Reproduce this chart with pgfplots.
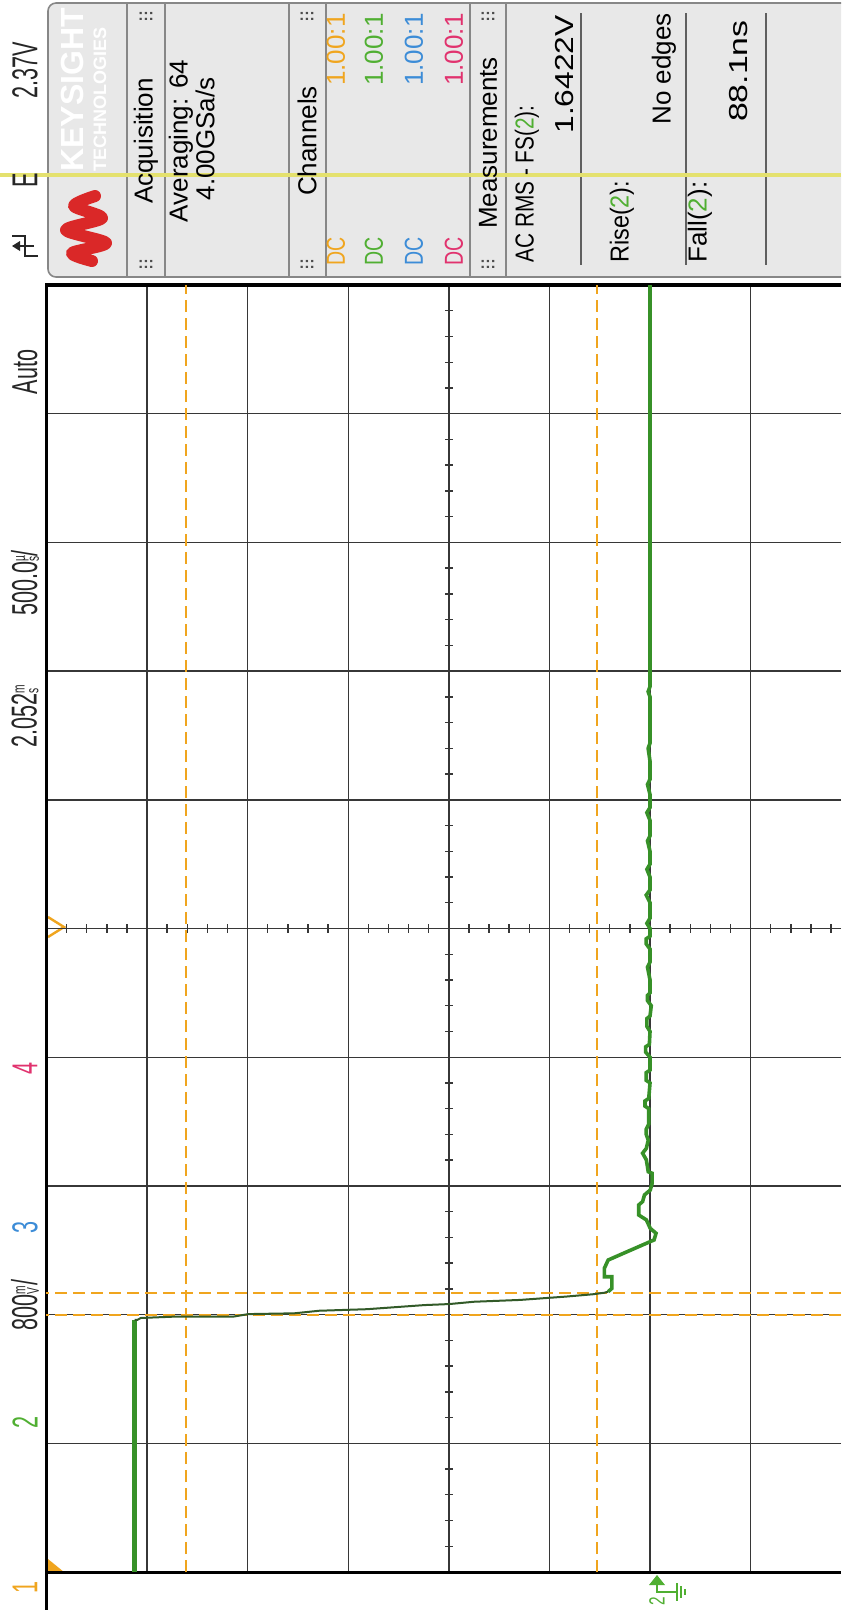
\documentclass[border=0pt]{standalone}
\usepackage{fontspec}
\setmainfont{Liberation Sans}
\usepackage{graphicx}
\usepackage{pgfplots}
\pgfplotsset{compat=1.18}
\definecolor{chone}{RGB}{240,165,30}
\definecolor{chtwo}{RGB}{80,175,50}
\definecolor{chthree}{RGB}{60,140,215}
\definecolor{chfour}{RGB}{225,50,110}
\definecolor{trace}{RGB}{55,145,40}
\definecolor{edgec}{RGB}{50,90,40}
\definecolor{panelbg}{RGB}{232,232,232}
\definecolor{panelln}{RGB}{135,135,135}
\definecolor{trig}{RGB}{228,225,110}
\definecolor{logored}{RGB}{218,40,40}
\definecolor{gridc}{RGB}{55,55,55}
\newcommand{\lstrip}{\fontsize{18}{20}\selectfont}
\newcommand{\pfont}{\fontsize{13}{15}\selectfont}
\newcommand{\stk}[2]{\ooalign{\raisebox{0.62ex}{\fontsize{8.5}{8}\selectfont #1}\cr\raisebox{-0.1ex}{\fontsize{8.5}{8}\selectfont #2}\cr}}
\begin{document}
\begin{tikzpicture}
% ---------- outer frame: pixel coordinates of the screenshot ----------
\begin{axis}[at={(0pt,0pt)}, anchor=north west, scale only axis,
  width=420.5pt, height=805pt, xmin=0, xmax=841, ymin=0, ymax=1610,
  y dir=reverse, hide axis, clip=false]
\fill[white] (0,0) rectangle (841,1610);
% panel
\fill[panelbg] (841,3) [rounded corners=4pt] -- (48,3) -- (48,277) [sharp corners] -- (841,277) -- cycle;
\draw[panelln, line width=0.8pt] (841,3) [rounded corners=4pt] -- (48,3) -- (48,277) [sharp corners] -- (841,277);
\pgfplotsinvokeforeach{127,165,289,326,470,506}{\draw[panelln, line width=0.8pt] (#1,3) -- (#1,277);}
\pgfplotsinvokeforeach{581,686,766}{\draw[gridc!80, line width=0.8pt] (#1,13) -- (#1,265);}
% trigger level line
\draw[trig, line width=2pt] (0,175) -- (841,175);
% logo
\draw[logored, line width=6pt, line cap=round, line join=round] plot[smooth] coordinates {(95,196) (74,206) (102,218) (66,230) (106,243) (72,253) (92,261)};
\node[rotate=90, anchor=west, inner sep=0, text=white, font=\fontsize{16}{18}\selectfont\bfseries] at (72,172) {KEYSIGHT};
\node[rotate=90, anchor=west, inner sep=0, text=white, font=\fontsize{9}{10}\selectfont\bfseries] at (100,172) {TECHNOLOGIES};
% panel headers
\node[rotate=90, inner sep=0, font=\pfont] at (146,141) {Acquisition};
\node[rotate=90, inner sep=0, font=\pfont] at (181,141) {Averaging: 64};
\node[rotate=90, inner sep=0, font=\pfont] at (205,139) {4.00GSa/s};
\node[rotate=90, inner sep=0, font=\pfont] at (307,141) {Channels};
\node[rotate=90, inner sep=0, font=\pfont] at (488,143) {Measurements};
\pgfplotsinvokeforeach{146,307,488}{
  \node[inner sep=0, font=\fontsize{8}{8}\selectfont\bfseries, text=black!70] at (#1,16) {:::};
  \node[inner sep=0, font=\fontsize{8}{8}\selectfont\bfseries, text=black!70] at (#1,264) {:::};}
% channels
\node[rotate=90, anchor=west, inner sep=0, font=\pfont, text=chone] at (336,266) {\scalebox{0.75}[1]{DC}};
\node[rotate=90, anchor=west, inner sep=0, font=\pfont, text=chtwo] at (374,266) {\scalebox{0.75}[1]{DC}};
\node[rotate=90, anchor=west, inner sep=0, font=\pfont, text=chthree] at (414,266) {\scalebox{0.75}[1]{DC}};
\node[rotate=90, anchor=west, inner sep=0, font=\pfont, text=chfour] at (454,266) {\scalebox{0.75}[1]{DC}};
\node[rotate=90, anchor=east, inner sep=0, font=\pfont, text=chone] at (336,13) {1.00:1};
\node[rotate=90, anchor=east, inner sep=0, font=\pfont, text=chtwo] at (374,13) {1.00:1};
\node[rotate=90, anchor=east, inner sep=0, font=\pfont, text=chthree] at (414,13) {1.00:1};
\node[rotate=90, anchor=east, inner sep=0, font=\pfont, text=chfour] at (454,13) {1.00:1};
% measurements
\node[rotate=90, anchor=west, inner sep=0, font=\pfont] at (527,263) {\scalebox{0.8}[1]{AC RMS - FS(\textcolor{chtwo}{2}):}};
\node[rotate=90, anchor=east, inner sep=0, font=\pfont] at (565,15) {\scalebox{1.22}[1]{1.6422V}};
\node[rotate=90, anchor=west, inner sep=0, font=\pfont] at (622,263) {\scalebox{0.9}[1]{Rise(\textcolor{chtwo}{2}):}};
\node[rotate=90, anchor=east, inner sep=0, font=\pfont] at (664,13) {No edges};
\node[rotate=90, anchor=west, inner sep=0, font=\pfont] at (700,263) {Fall(\textcolor{chtwo}{2}):};
\node[rotate=90, anchor=east, inner sep=0, font=\pfont] at (739,20) {\scalebox{1.3}[1]{88.1ns}};
% left strip
\node[rotate=90, inner sep=0, font=\lstrip, text=black!85] at (25,70) {\scalebox{0.6}[1]{2.37V}};
\node[rotate=90, inner sep=0, font=\lstrip, text=black!85] at (25,180) {\scalebox{0.6}[1]{E}};
\draw[black!85, line width=1pt] (38,256) -- (25,256) -- (25,236) -- (12,236);
\draw[black!85, line width=1pt] (34,246) -- (16,246);
\fill[black!85] (12,246) -- (20,241) -- (20,251) -- cycle;
\node[rotate=90, inner sep=0, font=\lstrip, text=black!85] at (25,372) {\scalebox{0.6}[1]{Auto}};
\node[rotate=90, inner sep=0, font=\lstrip, text=black!85] at (25,583) {\scalebox{0.6}[1]{500.0\stk{µ}{s}/}};
\node[rotate=90, inner sep=0, font=\lstrip, text=black!85] at (25,716) {\scalebox{0.6}[1]{2.052\stk{m}{s}}};
\node[rotate=90, inner sep=0, font=\lstrip, text=chfour] at (25,1068) {\scalebox{0.6}[1]{4}};
\node[rotate=90, inner sep=0, font=\lstrip, text=chthree] at (25,1227) {\scalebox{0.6}[1]{3}};
\node[rotate=90, inner sep=0, font=\lstrip, text=black!85] at (25,1305) {\scalebox{0.6}[1]{800\stk{m}{V}/}};
\node[rotate=90, inner sep=0, font=\lstrip, text=chtwo] at (25,1422) {\scalebox{0.6}[1]{2}};
\node[rotate=90, inner sep=0, font=\lstrip, text=chone] at (25,1587) {\scalebox{0.6}[1]{1}};
% left border continues below the grid
\draw[black, line width=1.5pt] (46.5,285) -- (46.5,1610);
% markers
\fill[chone] (48,1559) -- (48,1572) -- (64,1572) -- cycle;
\draw[chone, line width=1.2pt] (48,917) -- (64,927) -- (48,937);
% channel 2 ground marker
\fill[chtwo] (657,1575) -- (649,1585) -- (665,1585) -- cycle;
\draw[chtwo, line width=1pt] (657,1585) -- (657,1592) -- (677,1592);
\draw[chtwo, line width=1pt] (677,1583) -- (677,1601);
\draw[chtwo, line width=1pt] (681,1586) -- (681,1598);
\draw[chtwo, line width=1pt] (685,1589) -- (685,1595);
\node[rotate=90, inner sep=0, font=\fontsize{11}{12}\selectfont, text=chtwo] at (657,1601) {\scalebox{0.7}[1]{2}};
\end{axis}
% ---------- the scope grid: volts across, microseconds up ----------
\begin{axis}[at={(23.25pt,-142.5pt)}, anchor=north west, scale only axis,
  width=397.25pt, height=643.5pt,
  x dir=reverse, xmin=-1.519, xmax=4.8, ymin=-2500, ymax=2500,
  xtick={-0.8,0,0.8,1.6,2.4,3.2,4.0}, ytick={-2000,-1500,...,2000},
  xticklabels={}, yticklabels={}, major tick length=0pt,
  grid=major, major grid style={gridc, line width=0.7pt},
  axis line style={draw=none}, clip=false]
% centre-line ticks
\pgfplotsinvokeforeach{-2400,-2300,...,2400}{\draw[gridc, line width=0.7pt] (axis cs:1.568,#1) -- (axis cs:1.632,#1);}
\pgfplotsinvokeforeach{-1.44,-1.28,...,4.7}{\draw[gridc, line width=0.7pt] (axis cs:#1,-16) -- (axis cs:#1,16);}
% frame
\draw[black, line width=1.5pt] (axis cs:-1.519,2500) -- (axis cs:4.8,2500) -- (axis cs:4.8,-2500) -- (axis cs:-1.519,-2500);
% cursors
\addplot[chone, line width=1pt, dash pattern=on 6pt off 3pt] coordinates {(3.690,-2500) (3.690,2500)};
\addplot[chone, line width=1pt, dash pattern=on 6pt off 3pt] coordinates {(0.4215,-2500) (0.4215,2500)};
\addplot[chone, line width=1pt, dash pattern=on 6pt off 3pt] coordinates {(-1.519,-1416) (4.8,-1416)};
\addplot[chone, line width=1pt, dash pattern=on 6pt off 3pt] coordinates {(-1.519,-1503) (4.8,-1503)};
% channel 2 trace: high level
\addplot[trace, line width=2.2pt] coordinates {(4.099,-2500) (4.099,-1520)};
% falling edge
\addplot[edgec, line width=1pt] coordinates {(4.099,-1520) (4.076,-1520) (4.048,-1513) (3.787,-1508) (3.316,-1508) (3.194,-1498) (2.829,-1495) (2.631,-1485) (2.251,-1479) (1.794,-1463) (1.596,-1459) (1.398,-1450) (1.034,-1443) (0.668,-1430) (0.455,-1421) (0.363,-1415) (0.333,-1411)};
% ringing and settled level
\addplot[trace, line width=1.8pt] coordinates {(0.333,-1411) (0.303,-1398) (0.303,-1353) (0.363,-1353) (0.363,-1320) (0.333,-1288) (0.212,-1262) (0.090,-1236) (0.029,-1223) (-0.032,-1210) (-0.048,-1184) (-0.002,-1165) (0.029,-1132) (0.090,-1113) (0.090,-1074) (0.059,-1061) (0.044,-1035) (-0.002,-1016) (-0.017,-990) (-0.017,-951) (0.014,-945) (0.029,-899) (0.059,-873) (0.029,-854) (0.014,-822)
 (0.03,-800) (0.03,-780) (0.01,-760) (0.01,-700) (0.04,-690) (0.04,-670) (0.01,-660) (0.0,-600) (0.03,-590) (0.03,-560) (0.0,-550) (0.0,-500) (0.035,-480) (0.035,-460) (0.005,-450) (0.0,-400) (0.025,-380) (0.025,-350) (0.0,-340) (-0.01,-300) (0.02,-280) (0.02,-260) (0.0,-250) (0.0,-200) (0.02,-150) (0.0,-130) (0.0,-80) (0.03,-60) (0.03,-40) (0.0,-30) (0.0,0) (0.025,20) (0.0,40) (0.0,100) (0.03,130) (0.0,150) (0.0,200) (0.025,230) (0.0,250) (0.0,300) (0.02,340) (0.0,360) (0.0,420) (0.025,450) (0.0,470) (0.0,520) (0.02,560) (0.0,580) (0.0,650) (0.015,700) (0.0,720) (0.0,900) (0.015,920) (0.0,940) (0.0,1200) (0.0,2500)};
\end{axis}
\pgfresetboundingbox
\path[use as bounding box] (0pt,0pt) rectangle (420.5pt,-805pt);
\end{tikzpicture}
\end{document}
